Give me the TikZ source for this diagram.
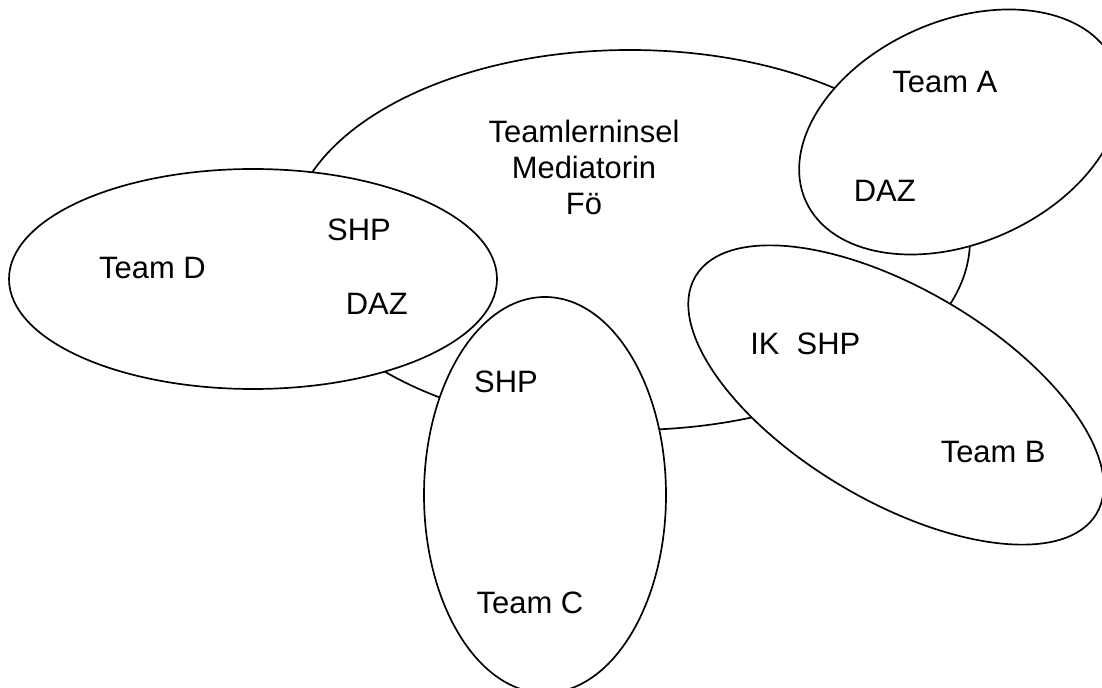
\documentclass[tikz,border=0pt]{standalone}
\usepackage{fontspec}
\setmainfont{Liberation Sans}

\begin{document}
\begin{tikzpicture}[font=\fontsize{22}{25.7}\selectfont]
        \useasboundingbox (0,0) rectangle (27.55,17.175);
        \begin{scope}
        \clip (0,0) rectangle (27.55,17.175);
        \filldraw[line width=1.2pt, fill=white] (15.75,11.175) ellipse (8.5 and 4.75);
        \filldraw[line width=1.2pt, fill=white, shift={(24,13.875)}, rotate=24] (0,0) ellipse (4.225 and 2.775);
        \filldraw[line width=1.2pt, fill=white, shift={(22.4,7.3)}, rotate=-30.6] (0,0) ellipse (5.825 and 2.65);
        \filldraw[line width=1.2pt, fill=white] (6.325,10.2) ellipse (6.1 and 2.75);
        \filldraw[line width=1.2pt, fill=white] (13.625,4.8) ellipse (3.025 and 4.95);
        \end{scope}
        \node[anchor=base, align=center] (insel) at (14.6,11.8) {Teamlerninsel\\Mediatorin\\Fö};
        \node[anchor=base] (teama) at (23.62,14.857) {Team A};
        \node[anchor=base] (daza) at (22.12,12.13) {DAZ};
        \node[anchor=base] (teamd) at (3.81,10.22) {Team D};
        \node[anchor=base] (shpd) at (8.975,11.16) {SHP};
        \node[anchor=base] (dazd) at (9.42,9.3) {DAZ};
        \node[anchor=base] (shpc) at (12.65,7.36) {SHP};
        \node[anchor=base] (teamc) at (13.25,1.84) {Team C};
        \node[anchor=base west, inner sep=0pt] (ikshp) at (18.75,8.3) {IK\ \ SHP};
        \node[anchor=base] (teamb) at (24.83,5.61) {Team B};
    \end{tikzpicture}
\end{document}
